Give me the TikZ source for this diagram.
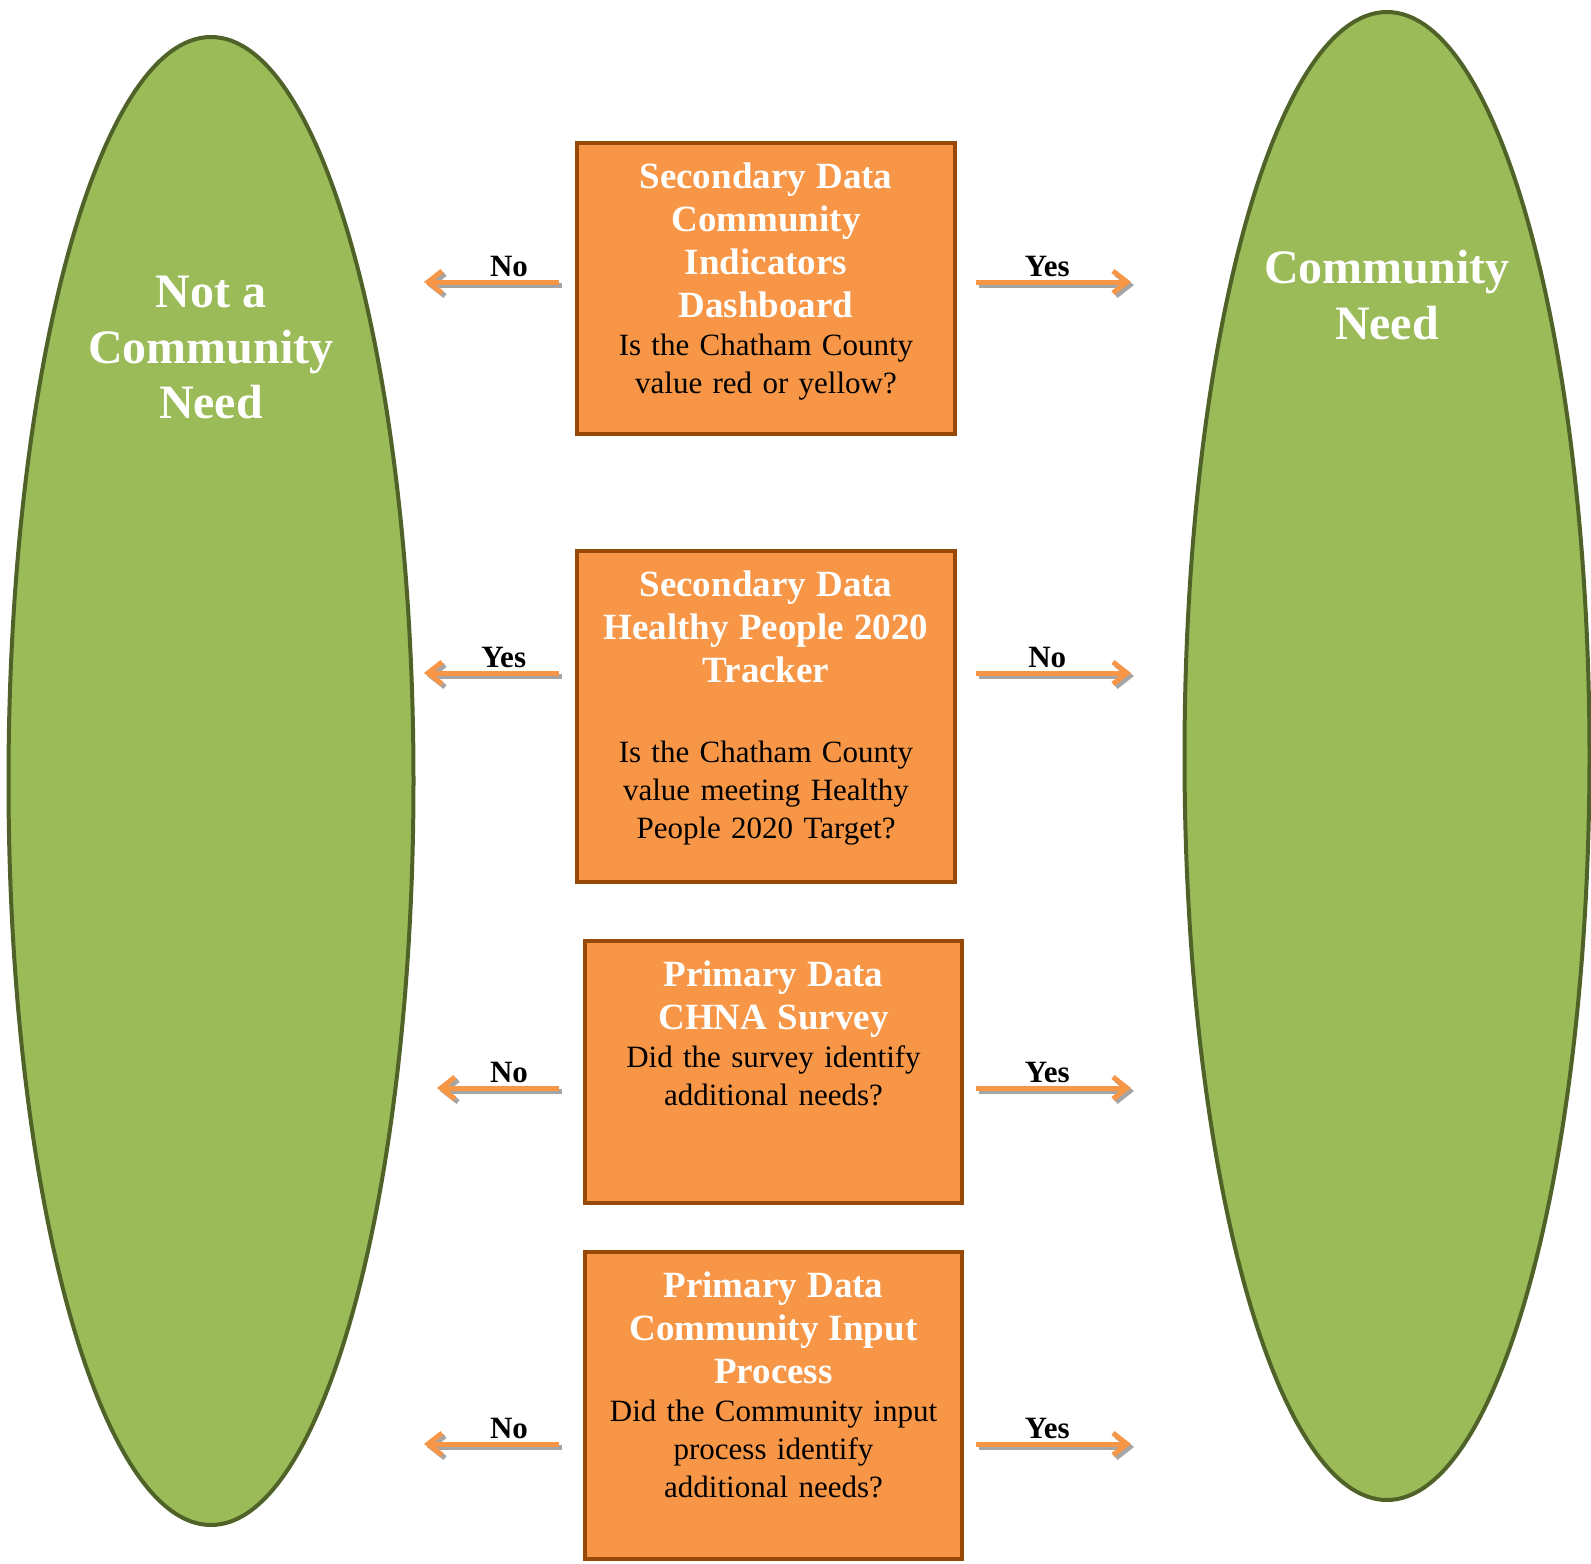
\documentclass[tikz,border=0pt]{standalone}
\usepackage{fontspec}
\setmainfont{Liberation Serif}
\usetikzlibrary{arrows.meta, positioning, shapes.geometric}
\definecolor{nOrange}{HTML}{F79646}
\definecolor{nBrown}{HTML}{984807}
\definecolor{nGreen}{HTML}{9BBB59}
\definecolor{nOlive}{HTML}{4F6228}
\definecolor{nGray}{HTML}{A5A5A5}
\newcommand{\headfont}{\fontsize{18.5}{21.5}\selectfont\bfseries\color{white}}
\newcommand{\askfont}{\fontsize{15.5}{19}\selectfont}

\begin{document}
\begin{tikzpicture}[x=0.5pt, y=-0.5pt,
    oval/.style={ellipse, draw=nOlive, line width=2pt, fill=nGreen, minimum width=202.5pt, minimum height=744pt, inner sep=0pt},
    ovaltext/.style={anchor=north, align=center, text=white, font=\fontsize{24}{27.7}\selectfont\bfseries, inner sep=0pt},
    qbox/.style={draw=nBrown, line width=2pt, fill=nOrange, minimum width=189pt, inner sep=0pt},
    qtext/.style={below=10.5pt of #1.north, text width=185pt, align=center, inner sep=0pt, font=\askfont},
    ans/.style={-{Straight Barb[length=7pt,width=11pt]}, line width=2.5pt, nOrange},
    ansshadow/.style={ans, nGray},
    anslabel/.style={above, inner sep=1.3pt, font=\fontsize{15.5}{18}\selectfont\bfseries, text=black}]
  \useasboundingbox (0,0) rectangle (1591,1564);

  % the two outcomes
  \node[oval] (notneed) at (211,781) {};
  \node[ovaltext] (notneedtxt) at (211,276) {Not a\\Community\\Need};
  \node[oval] (need) at (1387,756) {};
  \node[ovaltext] (needtxt) at (1387,250) {Community\\Need};

  % question boxes
  \node[qbox, minimum height=145.5pt] (dash) at (766,288.5) {};
  \node[qtext=dash] (dashtxt) {{\headfont Secondary Data\\Community\\Indicators\\Dashboard\par}Is the Chatham County\\value red or yellow?};
  \node[qbox, minimum height=165.5pt] (hp) at (766,716.5) {};
  \node[qtext=hp] (hptxt) {{\headfont Secondary Data\\Healthy People 2020\\Tracker\par}\vspace{21pt}Is the Chatham County\\value meeting Healthy\\People 2020 Target?};
  \node[qbox, minimum width=188.5pt, minimum height=131pt] (survey) at (773.5,1072) {};
  \node[qtext=survey] (surveytxt) {{\headfont Primary Data\\CHNA Survey\par}Did the survey identify\\additional needs?};
  \node[qbox, minimum width=188.5pt, minimum height=153.5pt] (input) at (773.5,1405.5) {};
  \node[qtext=input] (inputtxt) {{\headfont Primary Data\\Community Input\\Process\par}Did the Community input\\process identify\\additional needs?};

  % yes / no arrows
  \foreach \y/\tip/\lno/\rno/\lpos [count=\i] in {282/424/No/Yes/0.37, 673/424/Yes/No/0.41, 1088/437/No/Yes/0.41, 1444/424/No/Yes/0.37} {
    \coordinate (lfrom\i) at (559,\y);
    \coordinate (lto\i) at (\tip,\y);
    \coordinate (rfrom\i) at (976,\y);
    \coordinate (rto\i) at (1131,\y);
    \draw[ansshadow] ([shift={(1.5pt,-1.5pt)}]lfrom\i) -- ([shift={(1.5pt,-1.5pt)}]lto\i);
    \draw[ansshadow] ([shift={(1.5pt,-1.5pt)}]rfrom\i) -- ([shift={(1.5pt,-1.5pt)}]rto\i);
    \draw[ans] (lfrom\i) -- node[anslabel, pos=\lpos] {\lno} (lto\i);
    \draw[ans] (rfrom\i) -- node[anslabel, pos=0.46] {\rno} (rto\i);
  }
\end{tikzpicture}
\end{document}
